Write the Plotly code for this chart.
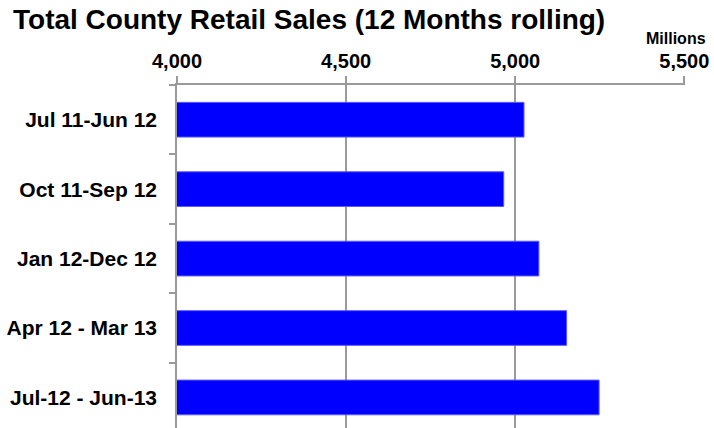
import plotly.graph_objects as go

# Rolling 12-month retail sales, in millions
periods = ["Jul 11-Jun 12", "Oct 11-Sep 12", "Jan 12-Dec 12", "Apr 12 - Mar 13", "Jul-12 - Jun-13"]
sales = [5026, 4966, 5070, 5152, 5248]
tick_values = [4000, 4500, 5000, 5500]

FONT = "Liberation Sans, Arial, sans-serif"
GRID = "#9a9a9a"

fig = go.Figure(
    go.Bar(
        y=periods,
        x=sales,
        base=0,
        orientation="h",
        width=0.5,
        marker=dict(color="#0000FF", line=dict(color="#5a5aff", width=1)),
    )
)

fig.update_layout(
    width=714,
    height=428,
    margin=dict(l=177, r=29, t=85, b=0),
    paper_bgcolor="white",
    plot_bgcolor="white",
    showlegend=False,
    font=dict(family=FONT, color="black"),
    title=dict(
        text="<b>Total County Retail Sales (12 Months rolling)</b>",
        font=dict(size=28, family=FONT, color="black"),
        xref="container", x=13 / 714, xanchor="left",
        yref="container", y=1 - 19 / 428, yanchor="middle",
    ),
    xaxis=dict(
        side="top",
        range=[4000, 5502],
        tickvals=tick_values,
        tickformat=",",
        tickfont=dict(size=20, family=FONT, color="black", weight="bold"),
        ticks="outside",
        ticklen=7,
        tickcolor=GRID,
        tickwidth=1.5,
        showline=True,
        linecolor=GRID,
        linewidth=1.5,
        showgrid=True,
        gridcolor=GRID,
        gridwidth=1.5,
        zeroline=False,
        fixedrange=True,
    ),
    yaxis=dict(
        type="category",
        categoryorder="array",
        categoryarray=periods,
        range=[4.44, -0.5],
        tickson="boundaries",
        ticks="outside",
        ticklen=6,
        tickcolor=GRID,
        tickwidth=1.5,
        ticklabelstandoff=14,
        tickfont=dict(size=21, family=FONT, color="black", weight="bold"),
        showline=True,
        linecolor=GRID,
        linewidth=1.5,
        showgrid=False,
        zeroline=False,
        fixedrange=True,
    ),
    annotations=[
        dict(
            text="<b>Millions</b>",
            xref="paper", yref="paper",
            x=(708 - 177) / 508, y=1 + 46 / 343,
            xanchor="right", yanchor="middle",
            showarrow=False,
            font=dict(size=16, family=FONT, color="black"),
        )
    ],
)

fig.write_html("out.html")
